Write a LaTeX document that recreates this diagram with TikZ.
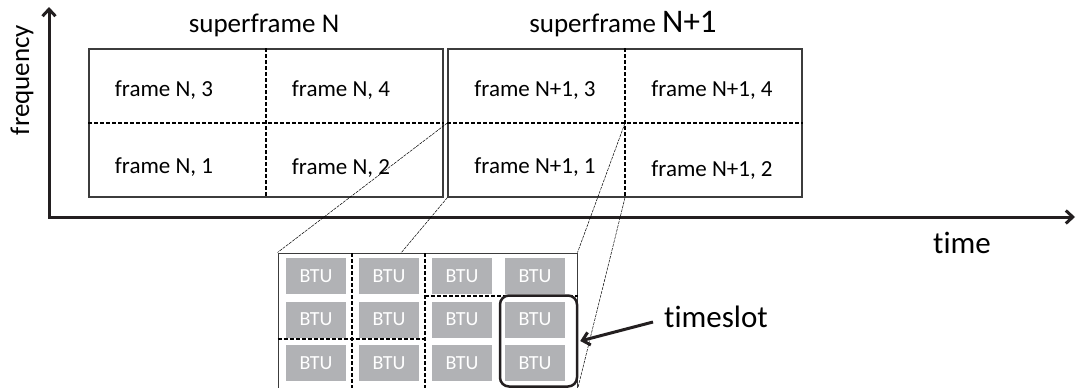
\documentclass[tikz,border=0pt]{standalone}
\usepackage{fontspec}
\setmainfont{Carlito}[Ligatures=NoCommon]
\usetikzlibrary{arrows.meta,positioning}
\definecolor{btugray}{RGB}{177,178,181}
\definecolor{boxgray}{RGB}{60,60,60}
\definecolor{axisblack}{RGB}{35,31,32}
\tikzset{>={Straight Barb[length=7pt,width=13pt]}}
\tikzset{%
    sfbox/.style={draw=boxgray,line width=1.3pt,minimum width=354pt,minimum height=148pt,inner sep=0pt},
    gridline/.style={line width=1.1pt,dash pattern=on 4pt off 2pt},
    zoomline/.style={line width=0.5pt,dash pattern=on 3pt off 1pt},
    btu/.style={fill=btugray,text=white,minimum width=60pt,minimum height=36pt,inner sep=0pt,font=\fontsize{20}{20}\selectfont},
    axisline/.style={line width=3pt,draw=axisblack},
    framelabel/.style={font=\fontsize{23}{23}\selectfont},
    biglabel/.style={font=\fontsize{27}{27}\selectfont}
}

\begin{document}
\begin{tikzpicture}[x=1pt,y=-1pt]
\useasboundingbox (0,0) rectangle (1076,388);

% axes
\coordinate (origin) at (49,217);
\coordinate (ftop) at (49,7);
\coordinate (tend) at (1075,217);
\draw[axisline,<->,line join=miter] (ftop) -- (origin) -- (tend);
\node[biglabel,rotate=90] (freq) at (22,80) {frequency};
\node[font=\fontsize{31}{31}\selectfont] (timelbl) at (962,243) {time};

% superframes
\node[sfbox] (sfN) at (266,123) {};
\node[sfbox] (sfN1) at (625,123) {};
\draw[gridline] (sfN.west) -- (sfN.east);
\draw[gridline] (sfN.north) -- (sfN.south);
\draw[gridline] (sfN1.west) -- (sfN1.east);
\draw[gridline] (sfN1.north) -- (sfN1.south);

\node[biglabel] (sfNlbl) at (264,25) {superframe N};
\node[biglabel] (sfN1lbl) at (623,24) {superframe {\fontsize{33}{33}\selectfont N+1}};

\node[framelabel] (fN3) at (164,90) {frame N, 3};
\node[framelabel] (fN4) at (341,90) {frame N, 4};
\node[framelabel] (fN1) at (164,167) {frame N, 1};
\node[framelabel] (fN2) at (341,168) {frame N, 2};
\node[framelabel] (fN13) at (535,90) {frame N+1, 3};
\node[framelabel] (fN14) at (712,90) {frame N+1, 4};
\node[framelabel] (fN11) at (535,167) {frame N+1, 1};
\node[framelabel] (fN12) at (712,170) {frame N+1, 2};

% BTU grid
\node[draw=boxgray,line width=1pt,minimum width=299pt,minimum height=136pt,inner sep=0pt] (btubox) at (427.5,321) {};
\foreach \i in {0,...,3}
  \foreach \j in {0,1,2}
    \node[btu] (btu\i\j) at (316+73*\i,276+43.5*\j) {BTU};
\draw[gridline] (352,253) -- (352,389);
\draw[gridline] (425,253) -- (425,389);
\draw[gridline] (btubox.west |- 0,339) -- (425,339);
\draw[gridline] (425,296) -- (btubox.east |- 0,296);

% zoom lines
\coordinate (btumid) at (401,253);
\draw[zoomline] (sfN1.west) -- (btubox.north west);
\draw[zoomline] (sfN1.south west) -- (btumid);
\draw[zoomline] (sfN1.center) -- (btubox.north east);
\draw[zoomline] (sfN1.south) -- (btubox.south east);

% timeslot
\node[draw=axisblack,line width=2.5pt,rounded corners=9pt,minimum width=77pt,minimum height=91pt,inner sep=0pt] (ts) at (538.5,341) {};
\node[font=\fontsize{31}{31}\selectfont] (tslbl) at (716,317) {timeslot};
\coordinate (tsstart) at (653,322);
\draw[axisline,->] (tsstart) -- ([xshift=2pt]ts.east);
\end{tikzpicture}
\end{document}
